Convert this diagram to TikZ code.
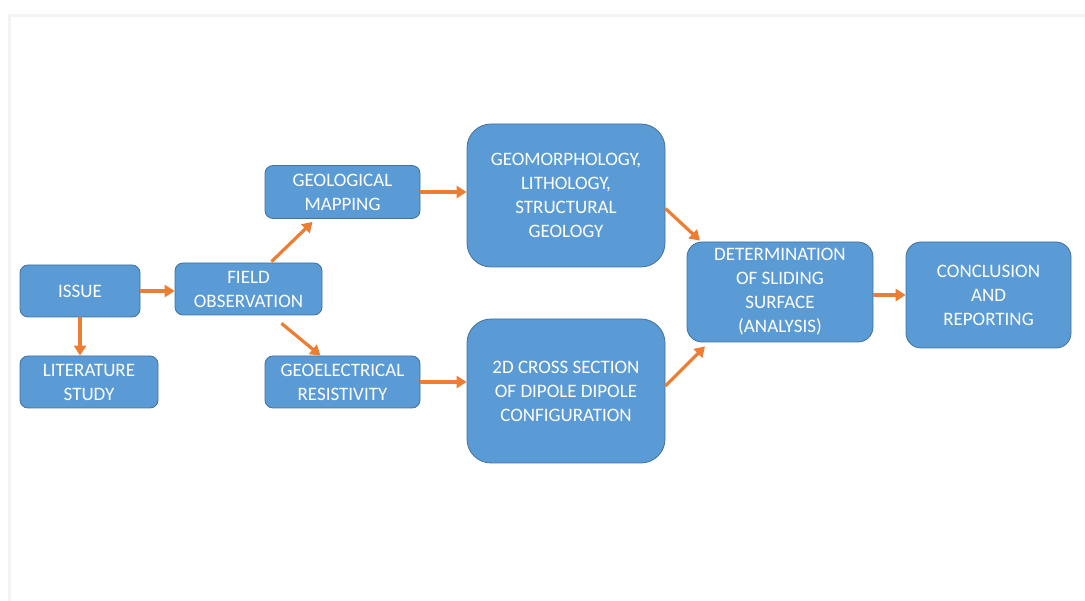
\documentclass[tikz,border=0pt]{standalone}
\usepackage{fontspec}
\setmainfont{Carlito}
\usepackage{xcolor}
\usepackage{tikz}
\usetikzlibrary{arrows.meta,positioning,calc}
\definecolor{boxblue}{HTML}{5B9BD5}
\definecolor{boxedge}{HTML}{41719C}
\definecolor{flowor}{HTML}{ED7D31}
\definecolor{framegray}{HTML}{F3F3F3}
\tikzset{
	box/.style = {
			draw            = boxedge,
			fill            = boxblue,
			line width      = 0.8pt,
			rounded corners = 8pt,
			text            = white,
			align           = center,
			inner sep       = 2pt,
			font            = \fontsize{19}{24}\selectfont,
		},
	bigbox/.style = {box, rounded corners = 24pt},
	midbox/.style = {box, rounded corners = 15pt},
	flow/.style = {
			draw         = flowor,
			line width   = 3.2pt,
			-{Triangle[length=10pt,width=12pt]},
		}
}

\begin{document}
\begin{tikzpicture}[x=1pt,y=-1pt]
		\useasboundingbox (0,0) rectangle (1085,601);
		\draw[framegray, line width=3pt] (9,601) -- (9,16) -- (1085,16);

		\node[box, minimum width=120pt, minimum height=52pt] at (80,291) (issue) {ISSUE};
		\node[box, minimum width=138pt, minimum height=52pt] at (89,382) (litstudy) {LITERATURE\\STUDY};
		\node[box, minimum width=147pt, minimum height=52pt] at (248.5,289) (fieldobs) {FIELD\\OBSERVATION};

		\node[box, minimum width=155pt, minimum height=53pt] at (342.5,192) (geomap) {GEOLOGICAL\\MAPPING};
		\node[box, minimum width=155pt, minimum height=52pt] at (342.5,382) (geores) {GEOELECTRICAL\\RESISTIVITY};

		\node[bigbox, minimum width=198pt, minimum height=143pt] at (566,195.5) (geomorph) {GEOMORPHOLOGY,\\LITHOLOGY,\\STRUCTURAL\\GEOLOGY};
		\node[bigbox, minimum width=198pt, minimum height=144pt] at (566,391) (crosssec) {2D CROSS SECTION\\OF DIPOLE DIPOLE\\CONFIGURATION};

		\node[midbox, minimum width=186pt, minimum height=100pt] at (780,292) (determ) {DETERMINATION\\OF SLIDING\\SURFACE\\(ANALYSIS)};
		\node[midbox, minimum width=165pt, minimum height=106pt] at (988.5,295) (concl) {CONCLUSION\\AND\\REPORTING};

		\draw[flow] (issue.east) -- (issue.east -| fieldobs.west);
		\draw[flow] (issue.south) -- (issue.south |- litstudy.north);
		\draw[flow] ([xshift=23pt,yshift=1pt]fieldobs.north) -- ([xshift=-30pt,yshift=-3pt]geomap.south);
		\draw[flow] ([xshift=33pt,yshift=-8pt]fieldobs.south) -- ([xshift=-22pt]geores.north);
		\draw[flow] (geomap.east) -- (geomap.east -| geomorph.west);
		\draw[flow] (geores.east) -- (geores.east -| crosssec.west);
		\draw[flow] ([yshift=-13pt]geomorph.east) -- ([xshift=-80pt,yshift=1pt]determ.north);
		\draw[flow] ([yshift=5pt]crosssec.east) -- ([xshift=-75pt,yshift=-4pt]determ.south);
		\draw[flow] ([yshift=-3pt]determ.east) -- ([yshift=-3pt]determ.east -| concl.west);
	\end{tikzpicture}
\end{document}
